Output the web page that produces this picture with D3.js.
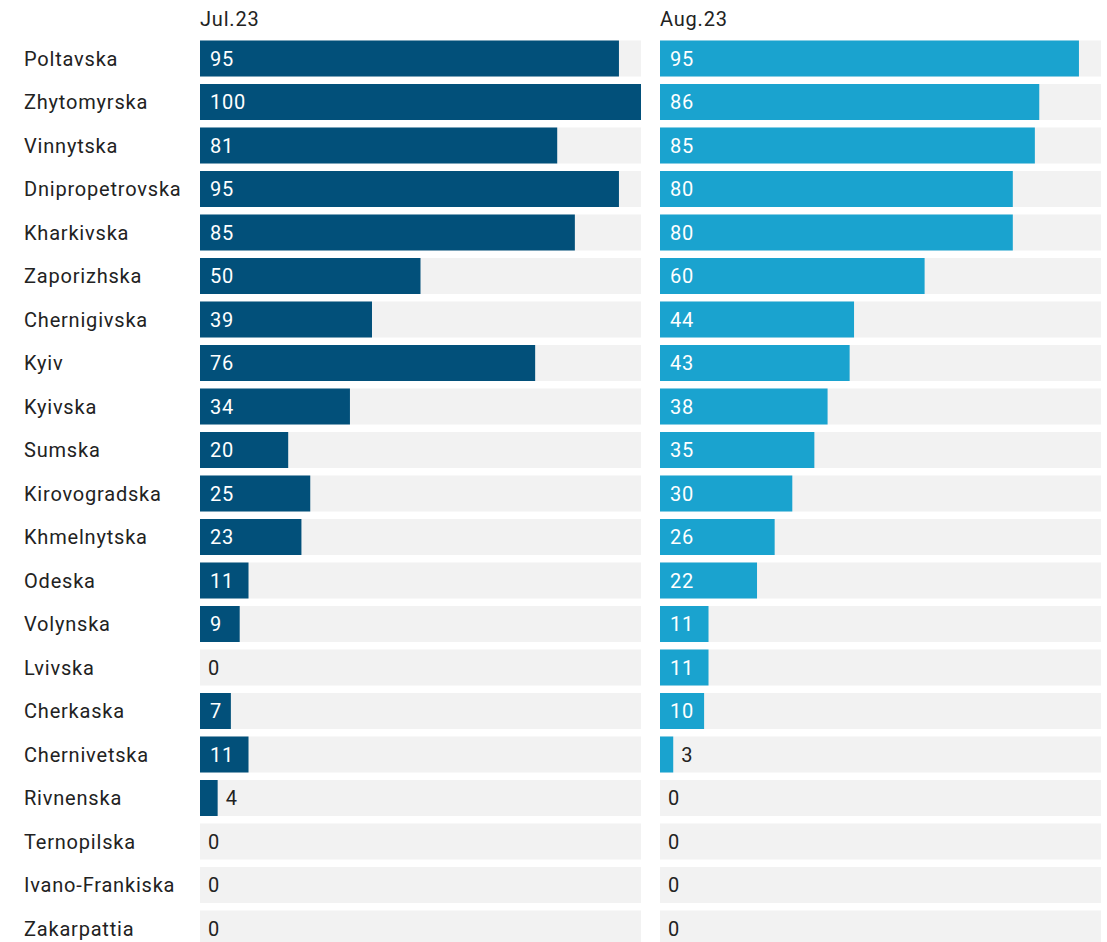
<!DOCTYPE html>
<html>
<head>
<meta charset="utf-8">
<script src="https://cdn.jsdelivr.net/npm/d3@7"></script>
<style>
  html, body { margin: 0; padding: 0; background: #fff; }
  svg { display: block; font-family: Roboto, "Noto Sans", sans-serif; letter-spacing: 0.8px; }
</style>
</head>
<body>
<div id="chart"></div>
<script>
var regions = ["Poltavska", "Zhytomyrska", "Vinnytska", "Dnipropetrovska", "Kharkivska",
  "Zaporizhska", "Chernigivska", "Kyiv", "Kyivska", "Sumska", "Kirovogradska",
  "Khmelnytska", "Odeska", "Volynska", "Lvivska", "Cherkaska", "Chernivetska",
  "Rivnenska", "Ternopilska", "Ivano-Frankiska", "Zakarpattia"];
var julValues = [95, 100, 81, 95, 85, 50, 39, 76, 34, 20, 25, 23, 11, 9, 0, 7, 11, 4, 0, 0, 0];
var augValues = [95, 86, 85, 80, 80, 60, 44, 43, 38, 35, 30, 26, 22, 11, 11, 10, 3, 0, 0, 0, 0];
var periods = ["Jul.23", "Aug.23"];
var maxValue = 100;

var w = 1107;
var h = 942;
var labelX = 24;
var panelX = [200, 660];
var panelW = 441;
var top0 = 40.5;
var step = 43.5;
var barH = 36;
var colors = ["#02507a", "#1aa3cf"];
var fontSize = 20;

var svg = d3.select("#chart").append("svg")
    .attr("width", w)
    .attr("height", h);

var y = d3.scaleBand()
    .domain(regions)
    .range([top0, top0 + regions.length * step - (step - barH)])
    .paddingInner((step - barH) / step)
    .paddingOuter(0);

var x = d3.scaleLinear()
    .domain([0, maxValue])
    .range([0, panelW]);

// region names
svg.append("g")
    .selectAll("text")
    .data(regions)
    .enter().append("text")
    .attr("x", labelX)
    .attr("y", function(d) { return y(d) + y.bandwidth() / 2; })
    .attr("dy", "0.35em")
    .attr("font-size", fontSize)
    .attr("fill", "#222")
    .text(function(d) { return d; });

var series = [julValues, augValues];

series.forEach(function(vals, si) {
    var g = svg.append("g")
        .attr("transform", "translate(" + panelX[si] + ",0)");

    g.append("text")
        .attr("x", 0)
        .attr("y", 26)
        .attr("font-size", fontSize)
        .attr("fill", "#222")
        .text(periods[si]);

    var rows = g.selectAll("g.row")
        .data(regions.map(function(r, i) { return { name: r, value: vals[i] }; }))
        .enter().append("g")
        .attr("class", "row")
        .attr("transform", function(d) { return "translate(0," + y(d.name) + ")"; });

    rows.append("rect")
        .attr("width", x(maxValue))
        .attr("height", y.bandwidth())
        .attr("fill", "#f2f2f2");

    rows.append("rect")
        .attr("width", function(d) { return x(d.value); })
        .attr("height", y.bandwidth())
        .attr("fill", colors[si]);

    rows.append("text")
        .attr("y", y.bandwidth() / 2)
        .attr("dy", "0.35em")
        .attr("font-size", fontSize)
        .text(function(d) { return d.value; })
        .each(function(d) {
            var tw = this.getComputedTextLength();
            var bw = x(d.value);
            var t = d3.select(this);
            if (tw + 18 <= bw) {
                t.attr("x", 10).attr("fill", "#fff");
            } else {
                t.attr("x", bw + 8).attr("fill", "#222");
            }
        });
});
</script>
</body>
</html>
